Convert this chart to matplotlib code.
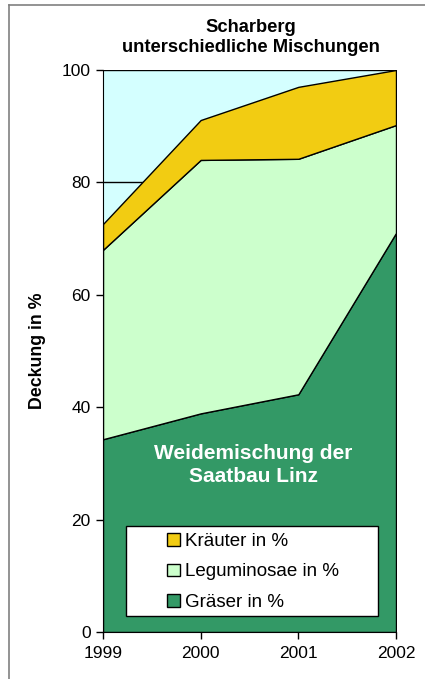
import matplotlib
matplotlib.use("Agg")
import matplotlib.pyplot as plt
from matplotlib.patches import Patch, Rectangle
from matplotlib.lines import Line2D

plt.rcParams['font.family'] = ['Liberation Sans', 'DejaVu Sans']

years = [1999, 2000, 2001, 2002]
graeser = [34.3, 38.9, 42.3, 71.0]
leguminosae = [33.7, 45.1, 41.9, 19.2]
kraeuter = [4.6, 7.1, 12.8, 9.8]
labels = ["Gräser in %", "Leguminosae in %", "Kräuter in %"]
colors = ["#339966", "#CCFFCC", "#F2CC12"]
yticks = [0, 20, 40, 60, 80, 100]

W, H = 425, 679
fig = plt.figure(figsize=(W/100, H/100), dpi=100)
ax = fig.add_axes([103/W, 1-632/H, (396-103)/W, (632-70)/H])
ax.set_facecolor("#D4FFFF")

for t in yticks[1:]:
    ax.axhline(t, color="black", lw=1, zorder=0.5)

ax.stackplot(years, graeser, leguminosae, kraeuter, colors=colors,
             edgecolor="black", linewidth=1.0, zorder=1)

ax.set_xlim(1999, 2002)
ax.set_ylim(0, 100)
ax.set_xticks(years)
ax.set_xticklabels([str(y) for y in years])
ax.set_yticks(yticks)
ax.tick_params(axis='both', labelsize=12.5, direction='out', length=5, width=1, color='black')
ax.tick_params(axis='x', pad=5)
ax.tick_params(axis='y', pad=4)
for s in ["top", "right"]:
    ax.spines[s].set_visible(False)

fig.text(38/W, 1-(0.5*(292+410))/H, "Deckung in %", rotation=90, ha="center", va="center",
         fontsize=12.8, fontweight="bold")

fig.text(251/W, 1-27/H, "Scharberg", ha="center", va="center", fontsize=13.2, fontweight="bold")
fig.text(251/W, 1-48/H, "unterschiedliche Mischungen", ha="center", va="center",
         fontsize=13.2, fontweight="bold")

ax.text(2000.54, 29.7, "Weidemischung der\nSaatbau Linz", color="white",
        fontsize=15, fontweight="bold", ha="center", va="center", linespacing=1.25)

# legend box
ax.add_patch(Rectangle(((126-103)/293, (632-616)/562), (378-126)/293, (616-526)/562,
                       transform=ax.transAxes, facecolor="white", edgecolor="black",
                       lw=1, zorder=3))
handles = [Patch(facecolor=colors[2], edgecolor="black", label=labels[2]),
           Patch(facecolor=colors[1], edgecolor="black", label=labels[1]),
           Patch(facecolor=colors[0], edgecolor="black", label=labels[0])]
leg = ax.legend(handles=handles, loc="center left",
                bbox_to_anchor=((158-103)/293, (632-572)/562),
                fontsize=13.5, frameon=False, borderpad=0,
                handlelength=0.65, handleheight=0.65, handletextpad=0.3,
                labelspacing=0.72)
leg.set_zorder(4)

# outer frame lines (gray)
fig.add_artist(Line2D([9/W, 1.0], [1-5/H, 1-5/H], color="#808080", lw=1.2))
fig.add_artist(Line2D([9/W, 9/W], [0, 1-5/H], color="#808080", lw=1.2))

fig.savefig("out.png", dpi=100)
